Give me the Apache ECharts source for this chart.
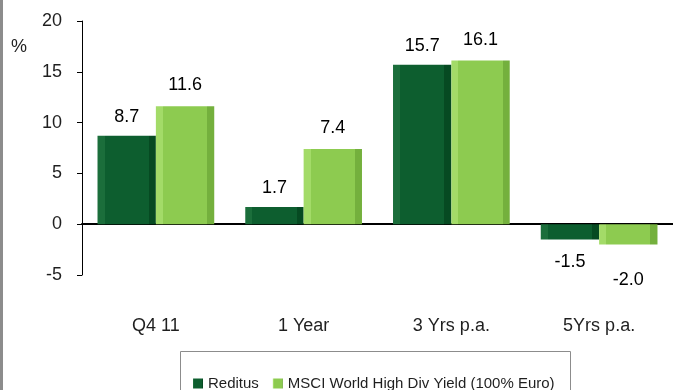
<!DOCTYPE html>
<html><head><meta charset="utf-8">
<script src="https://cdn.jsdelivr.net/npm/echarts@6/dist/echarts.min.js"></script>
<style>html,body{margin:0;padding:0;background:#fff}#c{width:673px;height:390px}</style>
</head><body><div id="c"></div>
<script>
const categories = ['Q4 11', '1 Year', '3 Yrs p.a.', '5Yrs p.a.'];
const seriesNames = ['Reditus', 'MSCI World High Div Yield (100% Euro)'];
const reditus = [8.7, 1.7, 15.7, -1.5];
const msci = [11.6, 7.4, 16.1, -2.0];
const yTicks = { min: -5, max: 20, interval: 5 };

const FONT = 'Liberation Sans, Arial, sans-serif';
function bevel(left, face, right) {
  return {
    type: 'linear', x: 0, y: 0, x2: 1, y2: 0,
    colorStops: [
      { offset: 0, color: left }, { offset: 0.12, color: left },
      { offset: 0.12, color: face }, { offset: 0.88, color: face },
      { offset: 0.88, color: right }, { offset: 1, color: right }
    ]
  };
}
function mkData(vals, negDist) {
  return vals.map(v => v < 0
    ? { value: v, label: { position: 'bottom', distance: negDist } }
    : { value: v });
}
const fmt = p => Number(p.value).toFixed(1);
const chart = echarts.init(document.getElementById('c'), null, { renderer: 'canvas' });
chart.setOption({
  animation: false,
  textStyle: { fontFamily: FONT },
  grid: { left: 82, right: 0, top: 21, bottom: 115 },
  xAxis: [
    { type: 'category', data: categories,
      axisLine: { onZero: true, lineStyle: { color: '#000', width: 2 } },
      axisTick: { show: false }, axisLabel: { show: false } },
    { type: 'category', data: categories, position: 'bottom',
      axisLine: { show: false, onZero: false }, axisTick: { show: false },
      axisLabel: { margin: 42, fontSize: 18, color: '#1f1f1f', fontFamily: FONT } }
  ],
  yAxis: {
    type: 'value', min: yTicks.min, max: yTicks.max, interval: yTicks.interval,
    axisLine: { show: true, lineStyle: { color: '#000', width: 1 } },
    axisTick: { show: true, length: 5, lineStyle: { color: '#000' } },
    splitLine: { show: false },
    axisLabel: { margin: 20, fontSize: 18, color: '#1f1f1f', fontFamily: FONT }
  },
  legend: {
    left: 193, top: 376, padding: 0, itemWidth: 10, itemHeight: 10, itemGap: 14,
    icon: 'rect',
    textStyle: { fontSize: 15, color: '#1f1f1f', fontFamily: FONT },
    data: seriesNames
  },
  graphic: [
    { type: 'rect', left: 0, top: 0, shape: { width: 3, height: 390 }, style: { fill: '#8c8c8c' } },
    { type: 'rect', left: 178, top: 349, shape: { width: 390, height: 60 },
      style: { fill: 'none', stroke: '#8c8c8c', lineWidth: 1 } },
    { type: 'text', left: 11, top: 38, style: { text: '%', font: '18px ' + FONT, fill: '#1f1f1f' } }
  ],
  series: [
    { name: seriesNames[0], type: 'bar', data: mkData(reditus, 14),
      barGap: '0%', barCategoryGap: '21%',
      itemStyle: { color: bevel('#1B6E3B', '#0D5E2F', '#064A22') },
      label: { show: true, position: 'top', distance: 10, fontSize: 18, color: '#000', fontFamily: FONT, formatter: fmt } },
    { name: seriesNames[1], type: 'bar', data: mkData(msci, 27),
      barGap: '0%', barCategoryGap: '21%',
      itemStyle: { color: bevel('#A3DB68', '#8DCB50', '#74B03D') },
      label: { show: true, position: 'top', distance: 12, fontSize: 18, color: '#000', fontFamily: FONT, formatter: fmt } }
  ]
});
</script></body></html>
